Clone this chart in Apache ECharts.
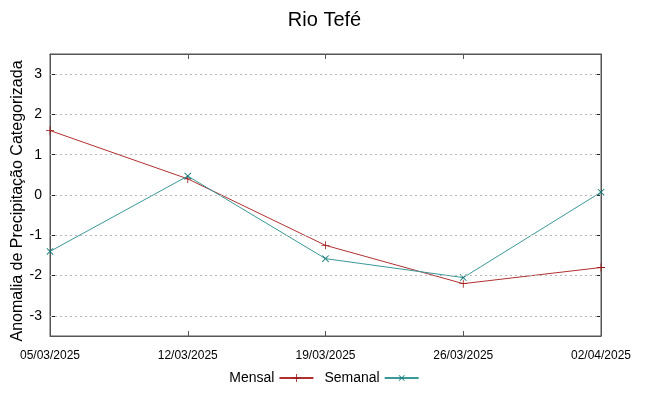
<!DOCTYPE html>
<html>
<head>
<meta charset="utf-8">
<script src="https://cdn.jsdelivr.net/npm/echarts@6/dist/echarts.min.js"></script>
<style>
  html, body { margin: 0; padding: 0; background: #fff; }
  #chart { width: 649px; height: 396px; }
</style>
</head>
<body>
<div id="chart"></div>
<script>
const dates = ["05/03/2025", "12/03/2025", "19/03/2025", "26/03/2025", "02/04/2025"];
const mensal = [1.6, 0.4, -1.25, -2.2, -1.8];
const semanal = [-1.4, 0.47, -1.58, -2.05, 0.07];
const yTicks = [-3, -2, -1, 0, 1, 2, 3];

const plus = "path://M4.5,0H5.5V4.5H10V5.5H5.5V10H4.5V5.5H0V4.5H4.5Z";
const font = "Liberation Sans, Arial, sans-serif";
const frame = "#555";

const chart = echarts.init(document.getElementById("chart"));

chart.setOption({
  animation: false,
  title: {
    text: "Rio Tefé",
    left: "center",
    top: 5,
    textStyle: { fontFamily: font, fontSize: 20, fontWeight: "normal", color: "#000" },
  },
  grid: {
    left: 50,
    right: 48,
    top: 54,
    bottom: 60,
    outerBoundsMode: "none",
    show: true,
    borderColor: frame,
    borderWidth: 1,
  },
  legend: {
    bottom: 6,
    left: "center",
    align: "right",
    itemWidth: 34,
    itemHeight: 10,
    itemGap: 10,
    textStyle: { fontFamily: font, fontSize: 14, color: "#000" },
    data: ["Mensal", "Semanal"],
  },
  xAxis: [
    {
      type: "category",
      data: dates,
      boundaryGap: false,
      axisLine: { onZero: false, lineStyle: { color: frame } },
      axisTick: { inside: true, length: 5, lineStyle: { color: frame } },
      axisLabel: { fontFamily: font, fontSize: 12, color: "#000", margin: 14, interval: 0 },
      splitLine: { show: false },
    },
    {
      type: "category",
      data: dates,
      position: "top",
      boundaryGap: false,
      axisLine: { onZero: false, lineStyle: { color: frame } },
      axisTick: { inside: true, length: 5, lineStyle: { color: frame } },
      axisLabel: { show: false },
      splitLine: { show: false },
    },
  ],
  yAxis: [
    {
      type: "value",
      min: -3.5,
      max: 3.5,
      interval: 0.5,
      name: "Anomalia de Precipitação Categorizada",
      nameLocation: "middle",
      nameGap: 24,
      nameMoveOverlap: false,
      nameTextStyle: { fontFamily: font, fontSize: 16, color: "#000", padding: [0, 12, 0, 0] },
      axisLine: { show: true, onZero: false, lineStyle: { color: frame } },
      axisTick: { show: true, inside: true, length: 5, customValues: yTicks, lineStyle: { color: "#222" } },
      axisLabel: { fontFamily: font, fontSize: 14, color: "#000", margin: 8, customValues: yTicks },
      splitLine: { show: false },
    },
    {
      type: "value",
      min: -3.5,
      max: 3.5,
      interval: 0.5,
      position: "right",
      axisLine: { show: true, onZero: false, lineStyle: { color: frame } },
      axisTick: { show: true, inside: true, length: 5, customValues: yTicks, lineStyle: { color: "#222" } },
      axisLabel: { show: false },
      splitLine: { show: false },
    },
  ],
  series: [
    {
      name: "grid",
      type: "line",
      data: [],
      markLine: {
        silent: true,
        symbol: "none",
        label: { show: false },
        lineStyle: { color: "#b8b8b8", type: [2, 3], width: 1 },
        data: yTicks.map((v) => ({ yAxis: v })),
      },
    },
    {
      name: "Mensal",
      type: "line",
      data: mensal,
      symbol: plus,
      symbolSize: 8,
      lineStyle: { color: "#b03030", width: 1 },
      itemStyle: { color: "#a01818" },
      z: 3,
    },
    {
      name: "Semanal",
      type: "line",
      data: semanal,
      symbol: plus,
      symbolRotate: 45,
      symbolSize: 9,
      lineStyle: { color: "#3a9898", width: 1 },
      itemStyle: { color: "#137878" },
      z: 4,
    },
  ],
});
</script>
</body>
</html>
